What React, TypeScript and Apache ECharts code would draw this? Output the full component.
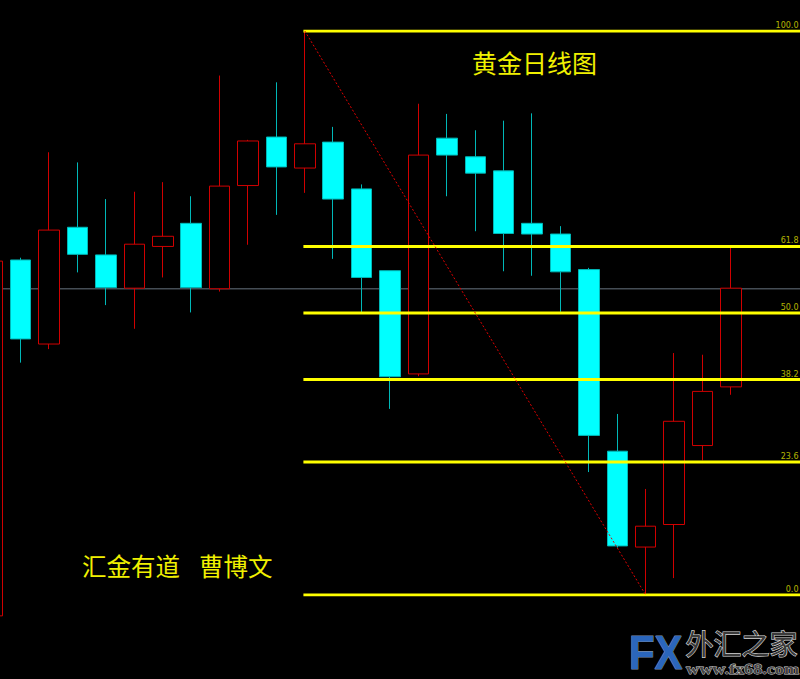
import React, { useEffect, useRef } from "react";
import * as echarts from "echarts";

// Daily candles, values expressed on the Fibonacci scale (0 = swing low, 100 = swing high)
const days = [0,1,2,3,4,5,6,7,8,9,10,11,12,13,14,15,16,17,18,19,20,21,22,23,24,25,26];
const opens  = [-3.7, 59.4, 44.5, 65.2, 60.3, 54.4, 61.8, 65.9, 54.3, 72.6, 81.2, 75.7, 80.3, 72.0, 57.5, 39.2, 81.0, 77.7, 75.2, 65.9, 64.0, 57.7, 25.5, 8.5, 12.5, 26.5, 36.9];
const closes = [59.2, 45.4, 64.7, 60.4, 54.5, 62.2, 63.6, 54.5, 72.5, 80.5, 75.9, 80.0, 70.2, 56.3, 38.7, 78.0, 78.0, 74.8, 64.1, 64.0, 57.3, 28.3, 8.7, 12.2, 30.8, 36.1, 54.4];
const lows   = [-5.0, 41.2, 43.6, 57.2, 51.4, 47.2, 56.3, 50.1, 53.8, 62.1, 67.4, 71.3, 59.6, 50.1, 33.0, 38.8, 70.7, 64.5, 57.4, 56.6, 50.2, 21.8, 8.4, 0.0, 3.0, 23.9, 35.5];
const highs  = [60.0, 59.8, 78.5, 76.7, 70.2, 71.5, 73.2, 70.7, 92.1, 80.7, 90.9, 100.0, 83.0, 72.8, 57.5, 87.1, 85.3, 82.4, 84.1, 85.4, 65.4, 58.0, 32.1, 18.8, 42.9, 42.6, 61.6];

const fibLevels = [0, 23.6, 38.2, 50.0, 61.8, 100.0];
const fibStartDay = 11; // swing high candle
const fibEndDay = 23;   // swing low candle
const currentPrice = 54.3;

const title = "黄金日线图";
const authorLeft = "汇金有道";
const authorRight = "曹博文";

// visible window of the day axis
const X_MIN = 0.27;
const X_MAX = 28.43;

export default function App() {
  const ref = useRef<HTMLDivElement>(null);
  useEffect(() => {
    if (!ref.current) return;
    const chart = echarts.init(ref.current, null, { renderer: "svg" });
    const candleData = days.map((d, i) => [d, opens[i], closes[i], lows[i], highs[i]]);
    const series: any[] = [
      {
        type: "line",
        data: [[X_MIN - 1, currentPrice], [X_MAX + 1, currentPrice]],
        symbol: "none",
        lineStyle: { color: "#454d55", width: 1.5 },
        z: 1,
        silent: true,
      },
      {
        type: "candlestick",
        data: candleData,
        encode: { x: 0, y: [1, 2, 3, 4] },
        barWidth: 21,
        clip: false,
        itemStyle: {
          color: "#000000",
          color0: "#00ffff",
          borderColor: "#d00000",
          borderColor0: "#00b8b8",
          borderWidth: 1,
        },
        z: 2,
      },
    ];
    fibLevels.forEach((v) => {
      series.push({
        type: "line",
        data: [[fibStartDay - 0.05, v], [X_MAX + 1, v]],
        symbol: "none",
        lineStyle: { color: "#ffff00", width: 3 },
        z: 3,
        silent: true,
      });
    });
    series.push({
      type: "line",
      data: [[fibStartDay, fibLevels[fibLevels.length - 1]], [fibEndDay, fibLevels[0]]],
      symbol: "none",
      lineStyle: { color: "#e00000", width: 1, type: [2, 2] },
      z: 4,
      silent: true,
    });
    series.push({
      type: "scatter",
      data: fibLevels.map((v) => [X_MAX, v]),
      symbolSize: 1,
      itemStyle: { color: "rgba(0,0,0,0)" },
      clip: false,
      label: {
        show: true,
        position: [-1, -1],
        align: "right",
        verticalAlign: "bottom",
        formatter: (p: any) => p.value[1].toFixed(1),
        color: "#e0e000",
        fontSize: 8,
        fontFamily: "DejaVu Sans, sans-serif",
      },
      z: 5,
      silent: true,
    });

    chart.setOption({
      animation: false,
      backgroundColor: "#000000",
      grid: { left: 0, right: 0, top: 31, height: 564, containLabel: false },
      xAxis: { type: "value", min: X_MIN, max: X_MAX, show: false },
      yAxis: { type: "value", min: 0, max: 100, show: false },
      graphic: [
        {
          type: "text",
          left: 472,
          top: 49,
          style: { text: title, fill: "#f0f000", fontSize: 25, fontFamily: "Noto Sans CJK SC" },
        },
        {
          type: "text",
          left: 82,
          top: 553,
          style: { text: authorLeft, fill: "#f0f000", fontSize: 24.5, fontFamily: "Noto Sans CJK SC" },
        },
        {
          type: "text",
          left: 199,
          top: 553,
          style: { text: authorRight, fill: "#f0f000", fontSize: 24.5, fontFamily: "Noto Sans CJK SC" },
        },
        {
          type: "text",
          x: 629,
          y: 652,
          scaleX: 0.87,
          style: {
            text: "FX",
            fontSize: 48,
            fontWeight: "bold",
            fontFamily: "Liberation Sans, Arial, sans-serif",
            fill: "#2b66bc",
            stroke: "#7d8fa6",
            lineWidth: 1.2,
            verticalAlign: "middle",
          },
        },
        {
          type: "text",
          left: 685,
          top: 628,
          style: {
            text: "外汇之家",
            fontSize: 28,
            fontFamily: "Noto Sans CJK SC",
            fill: "#3a3a3a",
            stroke: "#d8d8d8",
            lineWidth: 1.2,
          },
        },
        {
          type: "text",
          x: 686,
          y: 670,
          scaleX: 1.3,
          style: {
            text: "www.fx68.com",
            fontSize: 14,
            fontWeight: "bold",
            fontFamily: "Liberation Serif, serif",
            fill: "#444444",
            stroke: "#d0d0d0",
            lineWidth: 0.8,
            verticalAlign: "middle",
          },
        },
      ],
      series,
    });
    return () => chart.dispose();
  }, []);
  return (
    <div
      ref={ref}
      style={{ position: "fixed", left: 0, top: 0, width: 800, height: 679, background: "#000" }}
    />
  );
}
